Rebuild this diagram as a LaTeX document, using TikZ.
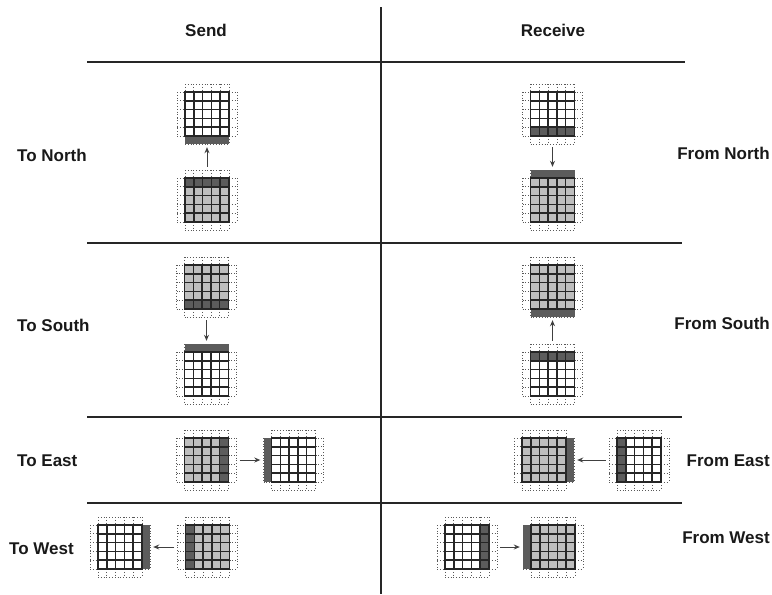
\documentclass[tikz,border=0pt]{standalone}
\usepackage{fontspec}
\setmainfont{Liberation Sans}
\usetikzlibrary{arrows.meta}
\definecolor{lg}{HTML}{BEBEBE}
\definecolor{dg}{HTML}{5C5C5C}
\tikzset{
 lbl/.style={font=\fontsize{17}{20}\selectfont\bfseries, inner sep=0pt, text=black!90},
 rulel/.style={line width=2.5pt, black!85},
 halo/.style={dotted, line width=0.8pt, black!65},
 gridl/.style={line width=1.5pt, black!85},
 blockbox/.style={minimum width=60pt, minimum height=60pt, inner sep=0pt, draw=none},
 xfer/.style={-{Stealth[length=6pt,width=5pt]}, line width=1pt, black!75, shorten >=3pt, shorten <=3pt},
}
\newcommand\gblk[5]{%
 \begin{scope}[shift={(#1,#2)}]
  \draw[halo] (-22,-30)--(22,-30) (-22,30)--(22,30) (-30,-22)--(-30,22) (30,-22)--(30,22);
  \foreach \i in {0,...,5}{\pgfmathsetmacro\p{-22+8.8*\i}
    \draw[halo] (\p,-30)--(\p,-22) (\p,22)--(\p,30) (-30,\p)--(-22,\p) (22,\p)--(30,\p);}
  \fill[#3] (-22,-22) rectangle (22,22);
  \fill[dg] #5;
  \foreach \i in {1,...,4}{\pgfmathsetmacro\p{-22+8.8*\i}
    \draw[gridl] (\p,-22)--(\p,22) (-22,\p)--(22,\p);}
  \draw[gridl, line width=1.8pt] (-22,-22) rectangle (22,22);
  \node[blockbox] (#4) at (0,0) {};
 \end{scope}}
\begin{document}
\begin{tikzpicture}[x=1pt,y=-1pt]
\useasboundingbox (0,0) rectangle (772,595);
% rules
\draw[rulel] (381,7) -- (381,594);
\draw[rulel] (87,62) -- (685,62);
\draw[rulel] (87,243) -- (682,243);
\draw[rulel] (87,417) -- (682,417);
\draw[rulel] (87,503) -- (682,503);
% headers
\node[lbl] (hs) at (206,30) {Send};
\node[lbl] (hr) at (553,30) {Receive};
% row labels
\node[lbl, anchor=west] (ln) at (17,155) {To North};
\node[lbl, anchor=east] (rn) at (770,153) {From North};
\node[lbl, anchor=west] (ls) at (17,325) {To South};
\node[lbl, anchor=east] (rs) at (770,323) {From South};
\node[lbl, anchor=west] (le) at (17,461) {To East};
\node[lbl, anchor=east] (re) at (770,461) {From East};
\node[lbl, anchor=west] (lw) at (9,549) {To West};
\node[lbl, anchor=east] (rw) at (770,538) {From West};
% row 1
\gblk{207}{114}{white}{A1}{(-22,22) rectangle (22,30)}
\gblk{207}{200}{lg}{B1}{(-22,-22) rectangle (22,-13.2)}
\draw[xfer] (B1.north) -- (A1.south);
\gblk{552.5}{114}{white}{C1}{(-22,13.2) rectangle (22,22)}
\gblk{552.5}{200}{lg}{D1}{(-22,-30) rectangle (22,-22)}
\draw[xfer] (C1.south) -- (D1.north);
% row 2
\gblk{206.5}{287}{lg}{A2}{(-22,13.2) rectangle (22,22)}
\gblk{206.5}{374}{white}{B2}{(-22,-30) rectangle (22,-22)}
\draw[xfer] (A2.south) -- (B2.north);
\gblk{552.5}{287}{lg}{C2}{(-22,22) rectangle (22,30)}
\gblk{552.5}{374}{white}{D2}{(-22,-22) rectangle (22,-13.2)}
\draw[xfer] (D2.north) -- (C2.south);
% row 3
\gblk{206.5}{460}{lg}{A3}{(13.2,-22) rectangle (22,22)}
\gblk{293.5}{460}{white}{B3}{(-30,-22) rectangle (-22,22)}
\draw[xfer] (A3.east) -- (B3.west);
\gblk{544}{460}{lg}{C3}{(22,-22) rectangle (30,22)}
\gblk{639}{460}{white}{D3}{(-22,-22) rectangle (-13.2,22)}
\draw[xfer] (D3.west) -- (C3.east);
% row 4
\gblk{120}{547}{white}{A4}{(22,-22) rectangle (30,22)}
\gblk{207.5}{547}{lg}{B4}{(-22,-22) rectangle (-13.2,22)}
\draw[xfer] (B4.west) -- (A4.east);
\gblk{467}{547}{white}{C4}{(13.2,-22) rectangle (22,22)}
\gblk{553}{547}{lg}{D4}{(-30,-22) rectangle (-22,22)}
\draw[xfer] (C4.east) -- (D4.west);
\end{tikzpicture}
\end{document}
